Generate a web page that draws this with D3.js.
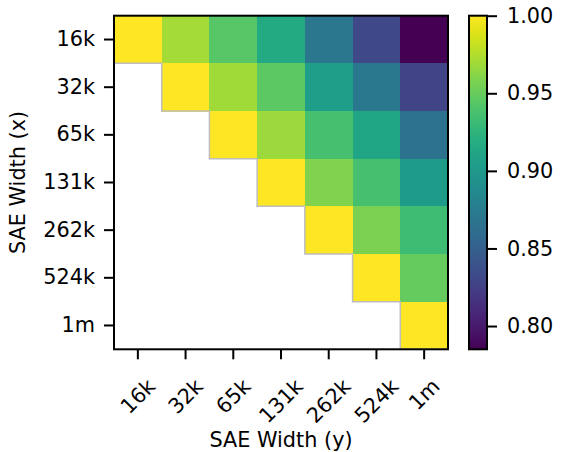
<!DOCTYPE html>
<html>
<head>
<meta charset="utf-8">
<script src="https://cdn.jsdelivr.net/npm/d3@7"></script>
<style>
  body { margin: 0; background: #fff; }
  text { font-family: "DejaVu Sans", sans-serif; fill: #000; }
</style>
</head>
<body>
<svg id="chart" width="563" height="452"></svg>
<script>
// SAE widths compared on both axes
const widths = ["16k", "32k", "65k", "131k", "262k", "524k", "1m"];

// Similarity of each width (row) with itself and every larger width (columns from the diagonal on)
const row16k  = [1.000, 0.971, 0.943, 0.916, 0.870, 0.832, 0.785];
const row32k  = [1.000, 0.969, 0.946, 0.905, 0.871, 0.828];
const row65k  = [1.000, 0.968, 0.937, 0.912, 0.866];
const row131k = [1.000, 0.959, 0.937, 0.903];
const row262k = [1.000, 0.957, 0.933];
const row524k = [1.000, 0.949];
const row1m   = [1.000];

const colorbarTicks = [0.80, 0.85, 0.90, 0.95, 1.00];

const rows = [row16k, row32k, row65k, row131k, row262k, row524k, row1m];

// Flatten into the upper-triangular cell list
const cells = [];
rows.forEach((vals, i) => {
  vals.forEach((v, k) => cells.push({ row: widths[i], col: widths[i + k], value: v }));
});

const svg = d3.select("#chart");
const FONT = 20.8;

const plotLeft = 114, plotRight = 448, plotTop = 15.7, plotBottom = 349.3;
const x = d3.scaleBand().domain(widths).range([plotLeft, plotRight]);
const y = d3.scaleBand().domain(widths).range([plotTop, plotBottom]);

const vmin = d3.min(cells, d => d.value);
const vmax = d3.max(cells, d => d.value);
const color = d3.scaleSequential(d3.interpolateViridis).domain([vmin, vmax]);

// Heatmap cells
svg.append("g").selectAll("rect")
  .data(cells)
  .join("rect")
  .attr("x", d => x(d.col))
  .attr("y", d => y(d.row))
  .attr("width", x.bandwidth() + 0.5)
  .attr("height", y.bandwidth() + 0.5)
  .attr("fill", d => color(d.value))
  .attr("shape-rendering", "crispEdges");

// Light edge along the stepped lower boundary of the triangle
const step = [];
widths.forEach(w => {
  step.push([x(w), y(w)]);
  step.push([x(w), y(w) + y.bandwidth()]);
  step.push([x(w) + x.bandwidth(), y(w) + y.bandwidth()]);
});
svg.append("path")
  .attr("d", d3.line()(step.slice(1)))
  .attr("fill", "none")
  .attr("stroke", "#bdbdbd")
  .attr("stroke-width", 1.5);

// Axes frame
svg.append("rect")
  .attr("x", plotLeft).attr("y", plotTop)
  .attr("width", plotRight - plotLeft).attr("height", plotBottom - plotTop)
  .attr("fill", "none").attr("stroke", "#000").attr("stroke-width", 2);

// Y axis
const yAxis = svg.append("g")
  .attr("transform", `translate(${plotLeft},0)`)
  .call(d3.axisLeft(y).tickSize(10).tickPadding(9));
yAxis.select(".domain").remove();
yAxis.selectAll(".tick line").attr("stroke", "#000").attr("stroke-width", 2);
yAxis.selectAll(".tick text")
  .attr("font-size", FONT)
  .attr("font-family", "DejaVu Sans")
  .attr("fill", "#000");

// X axis with labels turned 45 degrees, each centred under its tick
const xAxis = svg.append("g")
  .attr("transform", `translate(0,${plotBottom})`)
  .call(d3.axisBottom(x).tickSize(10).tickFormat(""));
xAxis.select(".domain").remove();
xAxis.selectAll(".tick line").attr("stroke", "#000").attr("stroke-width", 2);

const labelTop = 374;
const xl = svg.append("g");
widths.forEach(w => {
  const t = xl.append("text")
    .attr("font-size", FONT)
    .attr("text-anchor", "middle")
    .attr("dy", "0.346em")
    .text(w);
  const tw = t.node().getComputedTextLength();
  const th = 1.164 * FONT;
  const s = Math.SQRT1_2 * (tw + th);
  const cx = x(w) + x.bandwidth() / 2;
  const cy = labelTop + s / 2;
  t.attr("transform", `translate(${cx},${cy}) rotate(-45)`);
});

// Axis titles
svg.append("text")
  .attr("x", (plotLeft + plotRight) / 2)
  .attr("y", 447)
  .attr("text-anchor", "middle")
  .attr("font-size", FONT)
  .text("SAE Width (y)");

svg.append("text")
  .attr("transform", `translate(25,${(plotTop + plotBottom) / 2}) rotate(-90)`)
  .attr("text-anchor", "middle")
  .attr("font-size", FONT)
  .text("SAE Width (x)");

// Colorbar
const cbLeft = 469, cbWidth = 18;
const cbScale = d3.scaleLinear().domain([vmin, vmax]).range([plotBottom, plotTop]);

const defs = svg.append("defs");
const grad = defs.append("linearGradient")
  .attr("id", "cbGrad")
  .attr("x1", 0).attr("y1", 1).attr("x2", 0).attr("y2", 0);
d3.range(0, 1.0001, 0.02).forEach(p => {
  grad.append("stop")
    .attr("offset", p)
    .attr("stop-color", color(vmin + p * (vmax - vmin)));
});

svg.append("rect")
  .attr("x", cbLeft).attr("y", plotTop)
  .attr("width", cbWidth).attr("height", plotBottom - plotTop)
  .attr("fill", "url(#cbGrad)")
  .attr("stroke", "#000").attr("stroke-width", 2);

const cbAxis = svg.append("g")
  .attr("transform", `translate(${cbLeft + cbWidth},0)`)
  .call(d3.axisRight(cbScale).tickValues(colorbarTicks).tickFormat(d3.format(".2f")).tickSize(10).tickPadding(10));
cbAxis.select(".domain").remove();
cbAxis.selectAll(".tick line").attr("stroke", "#000").attr("stroke-width", 2);
cbAxis.selectAll(".tick text")
  .attr("font-size", FONT)
  .attr("font-family", "DejaVu Sans")
  .attr("fill", "#000");
</script>
</body>
</html>
